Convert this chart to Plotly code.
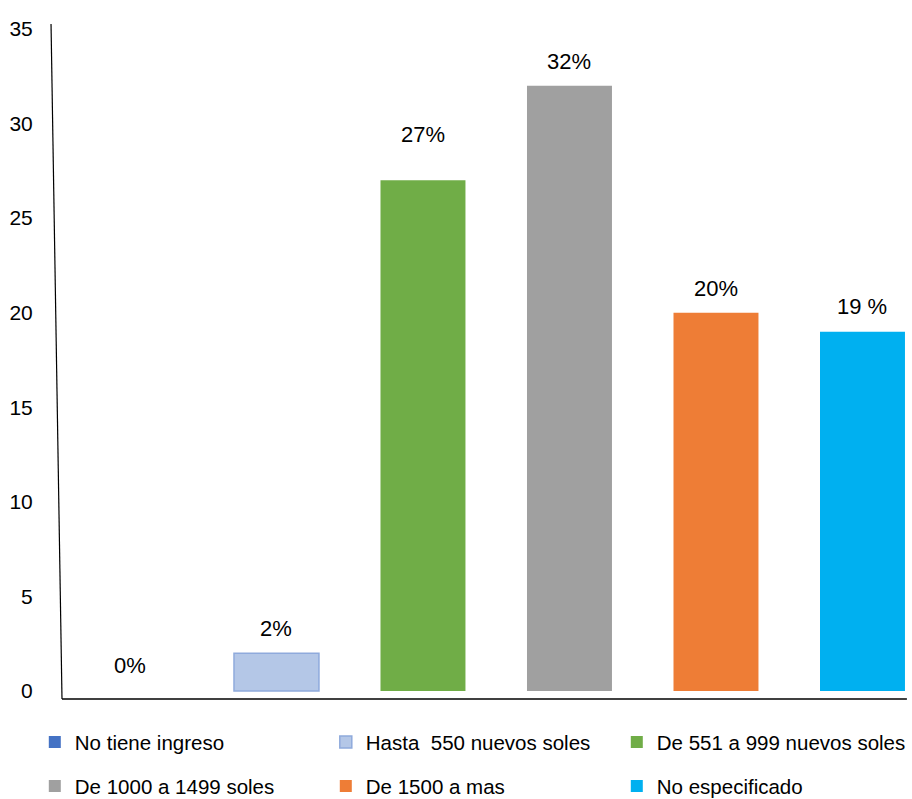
import plotly.graph_objects as go

# Income brackets, share of respondents (%)
categories = [
    "No tiene ingreso",
    "Hasta  550 nuevos soles",
    "De 551 a 999 nuevos soles",
    "De 1000 a 1499 soles",
    "De 1500 a mas",
    "No especificado",
]
values = [0, 2, 27, 32, 20, 19]
value_labels = ["0%", "2%", "27%", "32%", "20%", "19 %"]
label_offsets = [26, 25, 46, 24, 24, 25]

fill_colors = ["#4472c4", "#b4c7e7", "#70ad47", "#a0a0a0", "#ee7d36", "#00b0f0"]
line_colors = ["#4472c4", "#8faadc", "#70ad47", "#a0a0a0", "#ee7d36", "#00b0f0"]
legend_rows = ["legend", "legend", "legend", "legend2", "legend2", "legend2"]

y_ticks = [0, 5, 10, 15, 20, 25, 30, 35]

FONT = "Liberation Sans, Arial, sans-serif"

fig = go.Figure()
for i, cat in enumerate(categories):
    fig.add_trace(go.Bar(
        x=[i],
        y=[values[i]],
        name=cat,
        width=0.58,
        marker=dict(color=fill_colors[i],
                    line=dict(color=line_colors[i], width=1.5 if i == 1 else 0)),
        legend=legend_rows[i],
        hoverinfo="skip",
    ))

for i, (v, lab, off) in enumerate(zip(values, value_labels, label_offsets)):
    fig.add_annotation(x=i, y=v, text=lab, showarrow=False, yshift=off,
                       yanchor="middle", font=dict(size=22, color="#000000", family=FONT))

# hand-drawn looking vertical axis (slightly slanted)
fig.add_shape(type="line", xref="paper", yref="paper",
              x0=-0.0129, y0=0.994, x1=0.0, y1=0.0,
              line=dict(color="#000000", width=1.2))
# horizontal base line, stopping just short of the right edge
fig.add_shape(type="line", xref="paper", yref="paper",
              x0=0.0, y0=0.0, x1=0.994, y1=0.0,
              line=dict(color="#000000", width=1.6))

legend_common = dict(
    orientation="h", xanchor="left", yanchor="top",
    entrywidth=246, entrywidthmode="pixels",
    font=dict(size=20.5, color="#000000", family=FONT),
    bgcolor="rgba(0,0,0,0)", itemclick=False, itemdoubleclick=False,
)

fig.update_layout(
    width=912, height=799,
    margin=dict(l=62, r=0, t=20, b=100, autoexpand=False),
    paper_bgcolor="#ffffff", plot_bgcolor="#ffffff",
    barmode="overlay",
    showlegend=True,
    font=dict(family=FONT, color="#000000"),
    xaxis=dict(range=[-0.464, 5.338], showticklabels=False, ticks="",
               showgrid=False, zeroline=False, showline=False,
               fixedrange=True),
    yaxis=dict(range=[-0.423, 35.476], tickvals=y_ticks,
               ticktext=[str(t) for t in y_ticks],
               showgrid=False, zeroline=False, showline=False,
               ticks="outside", ticklen=24, tickcolor="rgba(0,0,0,0)",
               tickfont=dict(size=21, color="#000000", family=FONT),
               fixedrange=True),
    legend=dict(x=-0.032, y=-0.034, **legend_common),
    legend2=dict(x=-0.032, y=-0.099, **legend_common),
)

fig.write_html("out.html")
